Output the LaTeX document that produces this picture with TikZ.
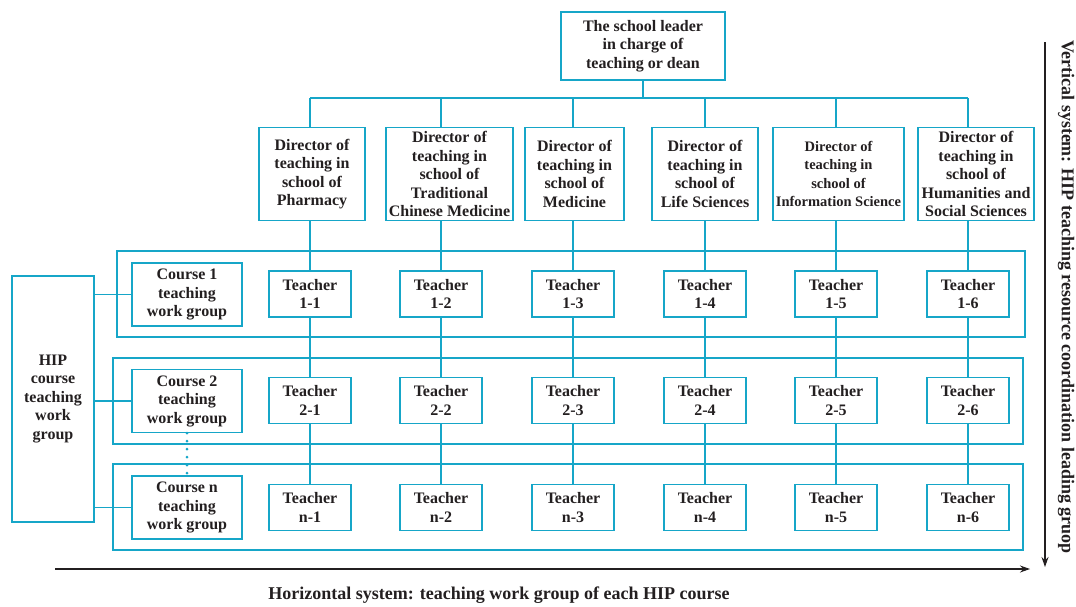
\documentclass[tikz,border=0pt]{standalone}
\usepackage{fontspec}
\setmainfont{Liberation Serif}
\usetikzlibrary{arrows.meta}
\definecolor{hipblue}{RGB}{22,166,200}
\definecolor{inkgray}{RGB}{35,31,32}

\begin{document}
\begin{tikzpicture}
[x=1pt,y=-1pt,>={Stealth[length=10pt,width=7pt]},
 box/.style={draw=hipblue,line width=1.1pt,align=center,inner sep=0pt,text=inkgray,font=\bfseries\fontsize{16}{18.5}\selectfont},
 dirbox/.style={box,minimum height=93pt},
 teachbox/.style={box,minimum width=82pt,minimum height=46pt},
 coursebox/.style={box,minimum width=110pt,minimum height=63pt},
 link/.style={draw=hipblue,line width=1.1pt},
 rowframe/.style={draw=hipblue,line width=1.1pt},
 axis/.style={->,draw=inkgray,line width=1.1pt},
 caption/.style={text=inkgray,font=\bfseries\fontsize{18}{20}\selectfont}]
\useasboundingbox (0,0) rectangle (1076,606);

\node[box,minimum width=164pt,minimum height=68pt] (lead) at (643,46) {The school leader\\in charge of\\teaching or dean};
\coordinate (bus) at (643,98);

\node[dirbox,minimum width=106pt] (d1) at (312,174) {Director of\\teaching in\\school of\\Pharmacy};
\node[dirbox,minimum width=127pt] (d2) at (449.5,174) {Director of\\teaching in\\school of\\Traditional\\Chinese Medicine};
\node[dirbox,minimum width=99pt] (d3) at (574.5,174) {Director of\\teaching in\\school of\\Medicine};
\node[dirbox,minimum width=106pt] (d4) at (705,174) {Director of\\teaching in\\school of\\Life Sciences};
\node[dirbox,minimum width=131pt,font=\bfseries\fontsize{14.5}{18.5}\selectfont] (d5) at (838.5,174) {Director of\\teaching in\\school of\\Information Science};
\node[dirbox,minimum width=116pt] (d6) at (976,174) {Director of\\teaching in\\school of\\Humanities and\\Social Sciences};

% one frame per course row
\draw[rowframe] (117,251) rectangle (1025,337);
\draw[rowframe] (113,358) rectangle (1023,444);
\draw[rowframe] (113,464) rectangle (1023,550);

\node[box,minimum width=82pt,minimum height=246pt] (hip) at (53,399) {HIP\\course\\teaching\\work\\group};
\node[coursebox] (c1) at (187,294.5) {Course 1\\teaching\\work group};
\node[coursebox] (c2) at (187,401) {Course 2\\teaching\\work group};
\node[coursebox] (c3) at (187,507.5) {Course n\\teaching\\work group};

\foreach \k/\x in {1/310,2/441,3/573,4/705,5/836,6/968} {
  \node[teachbox] (t1\k) at (\x,294) {Teacher\\1-\k};
  \node[teachbox] (t2\k) at (\x,400.5) {Teacher\\2-\k};
  \node[teachbox] (t3\k) at (\x,507.5) {Teacher\\n-\k};
}

\draw[link] (lead) -- (bus);
\draw[link] (t11 |- bus) -- (t16 |- bus);
\foreach \k in {1,...,6} {
  \draw[link] (t1\k |- bus) -- (t1\k |- d\k.north);
  \draw[link] (t1\k |- d\k.south) -- (t1\k);
  \draw[link] (t1\k) -- (t2\k);
  \draw[link] (t2\k) -- (t3\k);
}

\draw[link] (hip.east |- c1) -- (c1);
\draw[link] (hip.east |- c2) -- (c2);
\draw[link] (hip.east |- c3) -- (c3);
\draw[hipblue,line width=3pt,line cap=round,dash pattern=on 0pt off 8pt] (c2) -- (c3);

% the two systems
\coordinate (hstart) at (55,569);
\coordinate (hend) at (1030,569);
\draw[axis] (hstart) -- (hend);
\node[caption] (hlabel) at (499,595) {Horizontal system: teaching work group of each HIP course};

\coordinate (vstart) at (1045,42);
\coordinate (vend) at (1045,567);
\draw[axis] (vstart) -- (vend);
\node[caption,rotate=-90] (vlabel) at (1066,297) {Vertical system: HIP teaching resource coordination leading gruop};
\end{tikzpicture}
\end{document}
